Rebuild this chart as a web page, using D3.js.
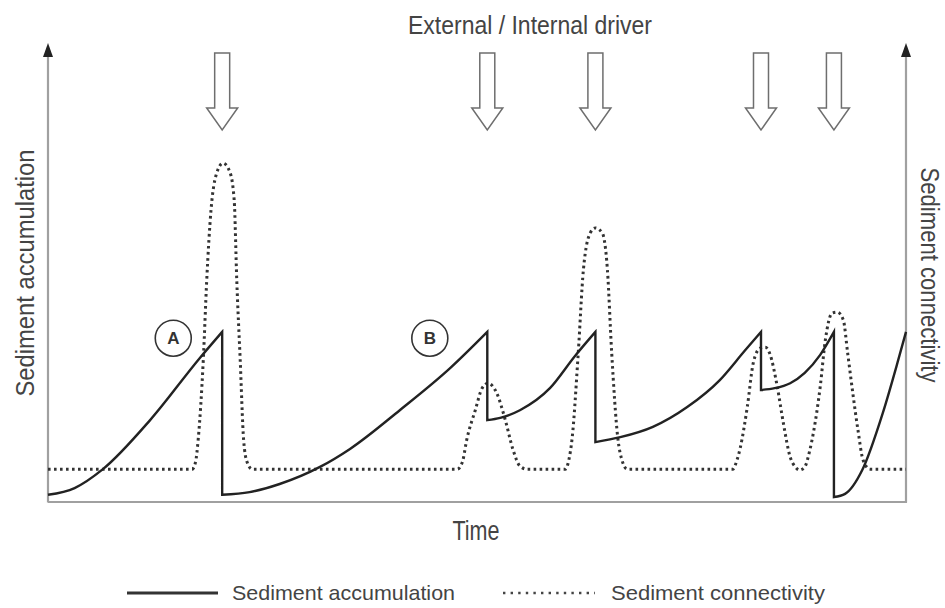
<!DOCTYPE html>
<html><head><meta charset="utf-8">
<script src="https://cdn.jsdelivr.net/npm/d3@7"></script>
<style>html,body{margin:0;padding:0;background:#fff;} svg{display:block;}</style>
</head><body>
<svg id="chart" width="945" height="608"></svg>
<script>
// ---- data (time 0-100, values 0-100, arbitrary units) ----
const driverTimes = [20.3, 51.2, 63.8, 83.1, 91.6];

// sediment accumulation: one array per build-up cycle (drops happen between cycles)
const accumulationCycle1 = [[0,1.6],[3.1,3.1],[6.4,7.3],[11.9,18.2],[17.7,32.0],[20.3,37.8]];
const accumulationCycle2 = [[20.3,1.6],[23.5,2.2],[27.0,4.0],[31.7,7.8],[35.2,11.8],[41.0,20.4],[46.9,29.8],[51.2,37.8]];
const accumulationCycle3 = [[51.2,18.2],[52.7,18.7],[55.0,20.4],[58.5,25.3],[61.4,32.4],[63.8,37.8]];
const accumulationCycle4 = [[63.8,13.3],[66.7,14.4],[70.5,16.7],[74.5,21.1],[78.3,27.1],[81.2,33.6],[83.1,37.8]];
const accumulationCycle5 = [[83.1,24.9],[84.7,25.3],[86.5,26.4],[88.2,28.7],[90.0,32.7],[91.6,37.8]];
const accumulationCycle6 = [[91.6,1.1],[92.9,1.8],[94.9,7.1],[97.3,19.8],[99.0,30.9],[100,37.8]];

// sediment connectivity
const connectivity = [
  [0,7.3],[16.8,7.3],[17.2,8.9],[17.5,13.8],[18.1,31.6],[18.5,49.3],[19.0,64.9],[19.6,72.7],[20.4,75.3],
  [21.2,73.3],[21.7,67.1],[22.0,49.3],[22.4,31.6],[22.8,13.8],[23.2,8.9],[23.8,7.3],
  [47.7,7.3],[48.3,8.9],[48.8,13.8],[49.8,20.4],[50.6,25.3],[51.3,26.4],[52.3,24.2],[53.3,18.2],[54.2,11.6],[55.0,8.0],[55.8,7.3],
  [60.3,7.3],[60.7,9.3],[61.1,14.4],[61.8,33.1],[62.4,51.6],[63.2,59.8],[63.8,60.9],[64.6,59.8],[65.2,51.6],[65.7,33.1],[66.4,14.4],[66.9,9.3],[67.5,7.3],
  [79.8,7.3],[80.3,9.3],[80.7,12.2],[81.5,21.1],[82.2,30.9],[83.0,34.2],[83.6,34.4],[84.1,33.1],[85.0,25.6],[85.7,17.6],[86.5,10.0],[87.1,7.8],[87.6,7.1],
  [88.2,7.8],[88.8,11.6],[89.2,15.3],[90.0,25.6],[90.6,36.0],[91.4,42.0],[92.0,42.2],[92.7,40.4],[93.2,33.1],[93.8,24.2],[94.4,16.0],[95.0,9.3],[95.8,7.3],[100,7.3]
];

const annotationLabels = ["A", "B"];
const annotationTimes = [14.6, 44.5];
const annotationValues = [36.4, 36.4];

const titleText = "External / Internal driver";
const xLabel = "Time";
const yLabelLeft = "Sediment accumulation";
const yLabelRight = "Sediment connectivity";
const legendLabels = ["Sediment accumulation", "Sediment connectivity"];

// ---- drawing ----
const svg = d3.select("#chart");
const FONT = "'Liberation Sans', Arial, Helvetica, sans-serif";
const x = d3.scaleLinear().domain([0,100]).range([48,906]);
const y = d3.scaleLinear().domain([0,100]).range([502,52]);

// axes
const axisColor = "#a0a0a0";
const gL = svg.append("g").attr("transform",`translate(${x(0)-0.5},0)`)
  .call(d3.axisLeft(y).ticks(0).tickSizeOuter(0));
const gR = svg.append("g").attr("transform",`translate(${x(100)-0.5},0)`)
  .call(d3.axisLeft(y).ticks(0).tickSizeOuter(0));
const gB = svg.append("g").attr("transform",`translate(0,${y(0)-0.5})`)
  .call(d3.axisBottom(x).ticks(0).tickSizeOuter(0));
[gL,gR,gB].forEach(g => g.select(".domain").attr("stroke",axisColor).attr("stroke-width",2.2));
gB.select(".domain").attr("d", `M${x(0)},0.5H${x(100)+1}`);

// axis arrowheads
[x(0), x(100)].forEach(ax => {
  svg.append("path")
    .attr("d", `M${ax},43L${ax+5},57L${ax-5},57Z`)
    .attr("fill","#222");
});

// driver block arrows
const aTop = 53, shaftBot = 108, tip = 130, sw = 7.5, hw = 15.5;
svg.append("g").selectAll("path").data(driverTimes).join("path")
  .attr("d", t => {
    const cx = x(t);
    return `M${cx-sw},${aTop}H${cx+sw}V${shaftBot}H${cx+hw}L${cx},${tip}L${cx-hw},${shaftBot}H${cx-sw}Z`;
  })
  .attr("fill","#fff").attr("stroke","#6e6e6e").attr("stroke-width",1.5).attr("stroke-linejoin","miter");

// connectivity (dotted)
const line = d3.line().x(d => x(d[0])).y(d => y(d[1])).curve(d3.curveMonotoneX);
svg.append("path").datum(connectivity)
  .attr("d", line)
  .attr("fill","none").attr("stroke","#333").attr("stroke-width",3)
  .attr("stroke-dasharray","2.6,3.4");

// accumulation (solid), cycles joined by vertical drops
const cycles = [accumulationCycle1, accumulationCycle2, accumulationCycle3, accumulationCycle4, accumulationCycle5, accumulationCycle6];
const accPath = cycles.map((c,i) => { const p = line(c); return i === 0 ? p : "L" + p.slice(1); }).join("");
svg.append("path").attr("d", accPath)
  .attr("fill","none").attr("stroke","#222").attr("stroke-width",2.4).attr("stroke-linejoin","miter");

// annotation circles
const ann = svg.append("g").selectAll("g").data(annotationLabels).join("g")
  .attr("transform",(d,i) => `translate(${x(annotationTimes[i])},${y(annotationValues[i])})`);
ann.append("circle").attr("r",18).attr("fill","#fff").attr("stroke","#333").attr("stroke-width",1.6);
ann.append("text").text(d => d).attr("text-anchor","middle").attr("dy","0.36em")
  .attr("font-family",FONT).attr("font-size",17).attr("font-weight","bold").attr("fill","#333");

// texts
svg.append("text").text(titleText).attr("x",530).attr("y",34).attr("text-anchor","middle")
  .attr("font-family",FONT).attr("font-size",25).attr("fill","#444")
  .attr("textLength",244).attr("lengthAdjust","spacingAndGlyphs");
svg.append("text").text(xLabel).attr("x",476).attr("y",540).attr("text-anchor","middle")
  .attr("font-family",FONT).attr("font-size",27).attr("fill","#444")
  .attr("textLength",47).attr("lengthAdjust","spacingAndGlyphs");
svg.append("text").text(yLabelLeft).attr("transform","translate(34,273) rotate(-90)").attr("text-anchor","middle")
  .attr("font-family",FONT).attr("font-size",26).attr("fill","#444")
  .attr("textLength",247).attr("lengthAdjust","spacingAndGlyphs");
svg.append("text").text(yLabelRight).attr("transform","translate(921,275) rotate(90)").attr("text-anchor","middle")
  .attr("font-family",FONT).attr("font-size",25).attr("fill","#444")
  .attr("textLength",215).attr("lengthAdjust","spacingAndGlyphs");

// legend
const legend = svg.append("g");
legend.append("line").attr("x1",127).attr("x2",218).attr("y1",593).attr("y2",593)
  .attr("stroke","#333").attr("stroke-width",3);
legend.append("text").text(legendLabels[0]).attr("x",232).attr("y",600)
  .attr("font-family",FONT).attr("font-size",21).attr("fill","#444")
  .attr("textLength",223).attr("lengthAdjust","spacingAndGlyphs");
legend.append("line").attr("x1",503).attr("x2",595).attr("y1",593).attr("y2",593)
  .attr("stroke","#444").attr("stroke-width",2.6).attr("stroke-dasharray","2.4,5.2");
legend.append("text").text(legendLabels[1]).attr("x",611).attr("y",600)
  .attr("font-family",FONT).attr("font-size",21).attr("fill","#444")
  .attr("textLength",214).attr("lengthAdjust","spacingAndGlyphs");
</script>
</body></html>
